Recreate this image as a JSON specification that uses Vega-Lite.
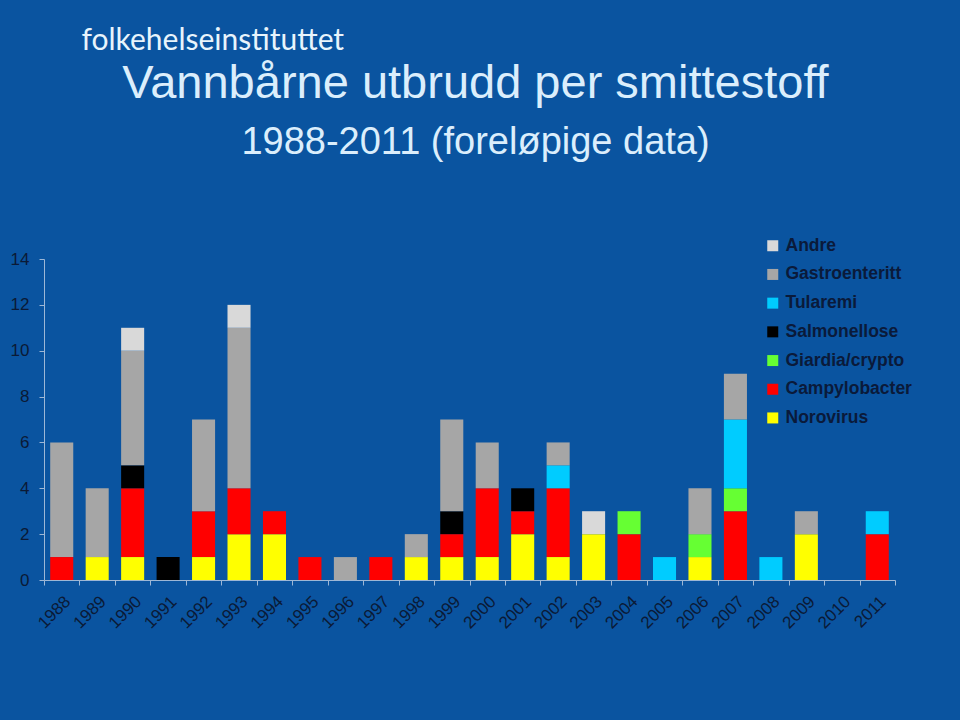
{
  "$schema": "https://vega.github.io/schema/vega-lite/v6.json",
  "width": 960,
  "height": 720,
  "autosize": {"type": "fit", "contains": "padding"},
  "padding": {"left": 10, "right": 64, "top": 25, "bottom": 88},
  "background": "#0A54A0",
  "title": {
    "text": "Vannbårne utbrudd per smittestoff",
    "subtitle": "1988-2011 (foreløpige data)",
    "anchor": "middle",
    "frame": "group",
    "dx": 6,
    "font": "Liberation Sans",
    "fontSize": 47,
    "fontWeight": "normal",
    "color": "#DBEEFC",
    "subtitleFont": "Liberation Sans",
    "subtitleFontSize": 38,
    "subtitleColor": "#DBEEFC",
    "subtitlePadding": 16,
    "offset": -138
  },
  "config": {
    "view": {"stroke": null},
    "axis": {
      "labelFont": "Liberation Sans",
      "labelFontSize": 17,
      "labelColor": "#0B1A36",
      "domainColor": "#9DB7D6",
      "tickColor": "#9DB7D6",
      "domainWidth": 1,
      "tickWidth": 1,
      "tickSize": 5,
      "grid": false
    }
  },
  "data": {
    "values": [
      {"year": "1988", "agent": "Campylobacter", "count": 1},
      {"year": "1988", "agent": "Gastroenteritt", "count": 5},
      {"year": "1989", "agent": "Norovirus", "count": 1},
      {"year": "1989", "agent": "Gastroenteritt", "count": 3},
      {"year": "1990", "agent": "Norovirus", "count": 1},
      {"year": "1990", "agent": "Campylobacter", "count": 3},
      {"year": "1990", "agent": "Salmonellose", "count": 1},
      {"year": "1990", "agent": "Gastroenteritt", "count": 5},
      {"year": "1990", "agent": "Andre", "count": 1},
      {"year": "1991", "agent": "Salmonellose", "count": 1},
      {"year": "1992", "agent": "Norovirus", "count": 1},
      {"year": "1992", "agent": "Campylobacter", "count": 2},
      {"year": "1992", "agent": "Gastroenteritt", "count": 4},
      {"year": "1993", "agent": "Norovirus", "count": 2},
      {"year": "1993", "agent": "Campylobacter", "count": 2},
      {"year": "1993", "agent": "Gastroenteritt", "count": 7},
      {"year": "1993", "agent": "Andre", "count": 1},
      {"year": "1994", "agent": "Norovirus", "count": 2},
      {"year": "1994", "agent": "Campylobacter", "count": 1},
      {"year": "1995", "agent": "Campylobacter", "count": 1},
      {"year": "1996", "agent": "Gastroenteritt", "count": 1},
      {"year": "1997", "agent": "Campylobacter", "count": 1},
      {"year": "1998", "agent": "Norovirus", "count": 1},
      {"year": "1998", "agent": "Gastroenteritt", "count": 1},
      {"year": "1999", "agent": "Norovirus", "count": 1},
      {"year": "1999", "agent": "Campylobacter", "count": 1},
      {"year": "1999", "agent": "Salmonellose", "count": 1},
      {"year": "1999", "agent": "Gastroenteritt", "count": 4},
      {"year": "2000", "agent": "Norovirus", "count": 1},
      {"year": "2000", "agent": "Campylobacter", "count": 3},
      {"year": "2000", "agent": "Gastroenteritt", "count": 2},
      {"year": "2001", "agent": "Norovirus", "count": 2},
      {"year": "2001", "agent": "Campylobacter", "count": 1},
      {"year": "2001", "agent": "Salmonellose", "count": 1},
      {"year": "2002", "agent": "Norovirus", "count": 1},
      {"year": "2002", "agent": "Campylobacter", "count": 3},
      {"year": "2002", "agent": "Tularemi", "count": 1},
      {"year": "2002", "agent": "Gastroenteritt", "count": 1},
      {"year": "2003", "agent": "Norovirus", "count": 2},
      {"year": "2003", "agent": "Andre", "count": 1},
      {"year": "2004", "agent": "Campylobacter", "count": 2},
      {"year": "2004", "agent": "Giardia/crypto", "count": 1},
      {"year": "2005", "agent": "Tularemi", "count": 1},
      {"year": "2006", "agent": "Norovirus", "count": 1},
      {"year": "2006", "agent": "Giardia/crypto", "count": 1},
      {"year": "2006", "agent": "Gastroenteritt", "count": 2},
      {"year": "2007", "agent": "Campylobacter", "count": 3},
      {"year": "2007", "agent": "Giardia/crypto", "count": 1},
      {"year": "2007", "agent": "Tularemi", "count": 3},
      {"year": "2007", "agent": "Gastroenteritt", "count": 2},
      {"year": "2008", "agent": "Tularemi", "count": 1},
      {"year": "2009", "agent": "Norovirus", "count": 2},
      {"year": "2009", "agent": "Gastroenteritt", "count": 1},
      {"year": "2011", "agent": "Campylobacter", "count": 2},
      {"year": "2011", "agent": "Tularemi", "count": 1}
    ]
  },
  "mark": {"type": "bar", "width": {"band": 0.65}},
  "encoding": {
    "x": {
      "field": "year",
      "type": "ordinal",
      "scale": {
        "domain": ["1988","1989","1990","1991","1992","1993","1994","1995","1996","1997","1998","1999","2000","2001","2002","2003","2004","2005","2006","2007","2008","2009","2010","2011"],
        "paddingInner": 0,
        "paddingOuter": 0
      },
      "axis": {"title": null, "labelAngle": -45, "tickBand": "extent", "labelPadding": 8}
    },
    "y": {
      "field": "count",
      "type": "quantitative",
      "stack": "zero",
      "scale": {"domain": [0, 14]},
      "axis": {
        "values": [0, 2, 4, 6, 8, 10, 12, 14],
        "labelPadding": 10,
        "title": "folkehelseinstituttet",
        "titleAngle": 0,
        "titleAlign": "left",
        "titleBaseline": "alphabetic",
        "titleX": 37,
        "titleY": -210,
        "titleFont": "Lato",
        "titleFontSize": 30,
        "titleFontWeight": "normal",
        "titleColor": "#E8F4FC"
      }
    },
    "order": {"field": "color_agent_sort_index", "type": "quantitative", "sort": "ascending"},
    "color": {
      "field": "agent",
      "type": "nominal",
      "sort": ["Norovirus","Campylobacter","Giardia/crypto","Salmonellose","Tularemi","Gastroenteritt","Andre"],
      "scale": {
        "domain": ["Norovirus","Campylobacter","Giardia/crypto","Salmonellose","Tularemi","Gastroenteritt","Andre"],
        "range": ["#FFFF00","#FF0000","#66FF33","#000000","#00CCFF","#A6A6A6","#D9D9D9"]
      },
      "legend": {
        "title": null,
        "orient": "none",
        "legendX": 720,
        "legendY": -22,
        "values": ["Andre","Gastroenteritt","Tularemi","Salmonellose","Giardia/crypto","Campylobacter","Norovirus"],
        "symbolType": "square",
        "symbolSize": 121,
        "symbolStrokeWidth": 0,
        "labelFont": "Liberation Sans",
        "labelFontWeight": "bold",
        "labelFontSize": 17.5,
        "labelColor": "#0A1A3A",
        "labelOffset": 4,
        "rowPadding": 9.7
      }
    }
  }
}
